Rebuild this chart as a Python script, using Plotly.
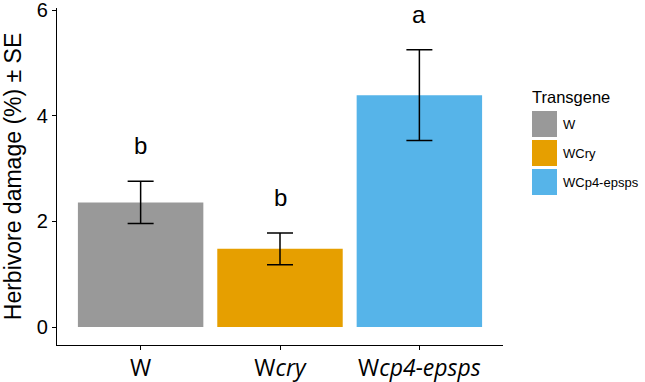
import plotly.graph_objects as go

categories = ["W", "Wcry", "Wcp4-epsps"]
tick_labels = ["W", "W<i>cry</i>", "W<i>cp4-epsps</i>"]
legend_labels = ["W", "WCry", "WCp4-epsps"]
means = [2.36, 1.48, 4.39]
se = [0.40, 0.30, 0.86]
letters = ["b", "b", "a"]
colors = ["#999999", "#E69F00", "#56B4E9"]
letter_offset = 0.67

fig = go.Figure()
fig.add_trace(go.Bar(
    x=categories, y=means, width=0.9,
    marker=dict(color=colors, line=dict(width=0)),
    error_y=dict(type="data", array=se, visible=True, color="black",
                 thickness=1.5, width=13),
    showlegend=False,
))

for c, m, s, l in zip(categories, means, se, letters):
    fig.add_annotation(x=c, y=m + s + letter_offset, text=l, showarrow=False,
                       font=dict(family="Liberation Sans, Arial", size=24, color="black"),
                       xref="x", yref="y", yanchor="middle")

# manual legend (ggplot-style large keys)
L, T = 57, 8
W_, H_ = 446, 337
def px(x):
    return (x - L) / W_
def py(y):
    return (T + H_ - y) / H_

fig.add_annotation(x=px(530), y=py(97), xref="paper", yref="paper", text="Transgene",
                   showarrow=False, xanchor="left", yanchor="middle",
                   font=dict(family="Liberation Sans, Arial", size=16.5, color="black"))
for i, (lab, col) in enumerate(zip(legend_labels, colors)):
    top = 111 + i * 29
    fig.add_shape(type="rect", xref="paper", yref="paper",
                  x0=px(532), x1=px(557), y0=py(top + 26), y1=py(top),
                  fillcolor=col, line=dict(width=0))
    fig.add_annotation(x=px(561), y=py(top + 13), xref="paper", yref="paper", text=lab,
                       showarrow=False, xanchor="left", yanchor="middle",
                       font=dict(family="Liberation Sans, Arial", size=13, color="black"))

fig.update_layout(
    width=645, height=382,
    margin=dict(l=L, r=645 - L - W_, t=T, b=382 - T - H_, autoexpand=False),
    plot_bgcolor="white", paper_bgcolor="white",
    bargap=0.1,
)
fig.update_xaxes(
    range=[-0.6, 2.6], tickmode="array", tickvals=categories, ticktext=tick_labels,
    showline=True, linecolor="black", linewidth=1.3, ticks="outside", ticklen=4,
    tickcolor="black", tickwidth=1.2, showgrid=False, zeroline=False,
    automargin=False, ticklabelstandoff=-2,
    tickfont=dict(family="Open Sans", size=23, color="black"),
)
fig.update_yaxes(
    range=[-0.34, 6.04], tickvals=[0, 2, 4, 6],
    showline=True, linecolor="black", linewidth=1.3, ticks="outside", ticklen=4,
    tickcolor="black", tickwidth=1.2, showgrid=False, zeroline=False,
    automargin=False, ticklabeloverflow="allow",
    tickfont=dict(family="Liberation Sans, Arial", size=20, color="black"),
    title=dict(text="Herbivore damage (%) ± SE", standoff=9,
               font=dict(family="Liberation Sans, Arial", size=23, color="black")),
)

fig.write_html("out.html", config={"displayModeBar": False},
               post_script="document.body.style.margin='0';document.body.style.overflow='hidden';")
